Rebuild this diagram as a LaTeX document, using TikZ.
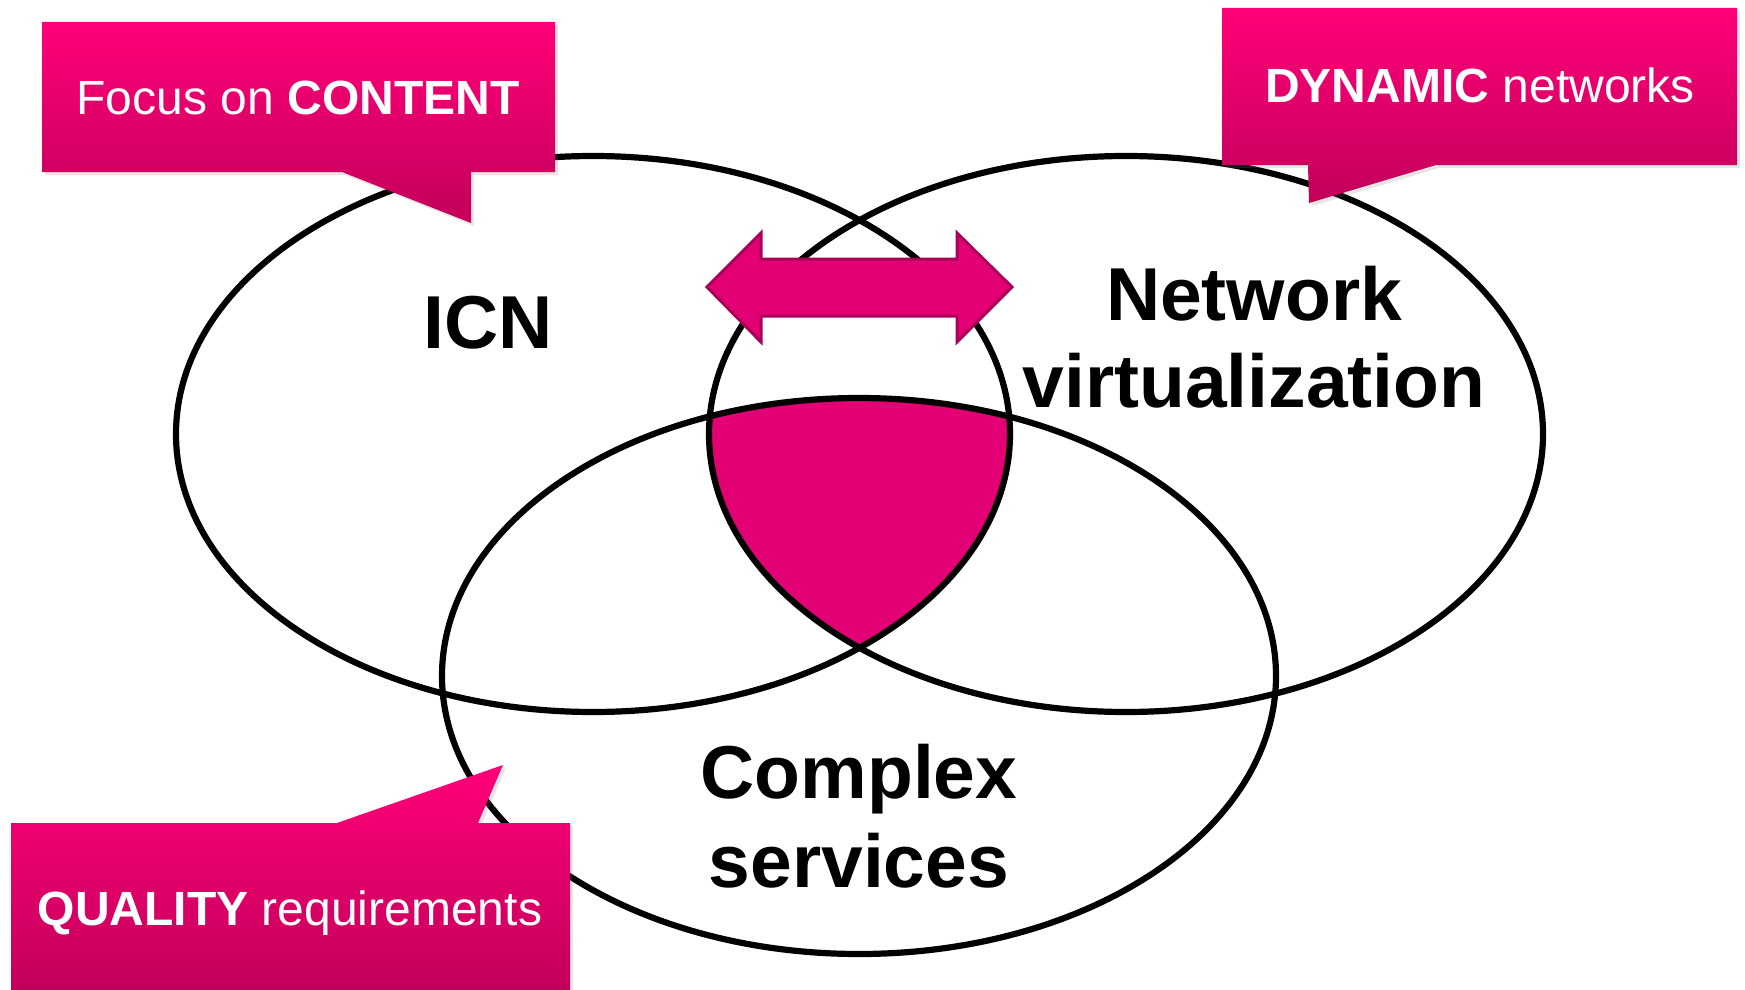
\documentclass[tikz,border=0pt]{standalone}
\usepackage{fontspec}
\setmainfont{Liberation Sans}
\newcommand*{\bigfont}{\fontsize{37.5}{44}\selectfont\bfseries}
\newcommand*{\tagfont}{\fontsize{24}{29}\selectfont}
\definecolor{M}{RGB}{226,0,116}
\definecolor{Mtop}{RGB}{255,0,120}
\definecolor{Mbot}{RGB}{194,0,90}
\definecolor{Medge}{RGB}{172,0,88}
\usepackage{tikz}
\usetikzlibrary{shadows}
\tikzstyle{base}=[x=0.5pt, y=-0.5pt, inner sep=0pt, outer sep=0pt]
\tikzstyle{ring}=[black, line width=3.1pt]
\tikzstyle{tag}=[top color=Mtop, bottom color=Mbot,
    drop shadow={shadow xshift=1.5pt, shadow yshift=-1.5pt, opacity=0.2}]
\tikzstyle{tagtext}=[white, anchor=base, font=\tagfont]
\tikzstyle{bigtext}=[black, anchor=base, font=\bigfont]

\begin{document}
\begin{tikzpicture}[base]
    \fill [white] (0,0) rectangle (1745,990);
    \path [use as bounding box] (0,0) rectangle (1745,990);
    % common part of the three sets
    \begin{scope}
        \clip (593,434) ellipse [x radius=417, y radius=278];
        \clip (1126,434) ellipse [x radius=417, y radius=278];
        \fill [M] (859,676) ellipse [x radius=417, y radius=278];
    \end{scope}
    \draw [ring] (593,434) ellipse [x radius=417, y radius=278];
    \draw [ring] (1126,434) ellipse [x radius=417, y radius=278];
    \draw [ring] (859,676) ellipse [x radius=417, y radius=278];
    % double arrow
    \draw [Medge, fill=M, line width=1.5pt, line join=miter]
        (707,287) -- (761,233) -- (761,259) -- (957,259) -- (957,233)
        -- (1012,287) -- (957,342) -- (957,316) -- (761,316) -- (761,342) -- cycle;
    % callouts
    \path [tag] (42,22) -- (555,22) -- (555,172) -- (471,172) -- (471,223)
        -- (342,172) -- (42,172) -- cycle;
    \path [tag] (1222,8) -- (1737,8) -- (1737,165) -- (1436,165) -- (1309,203)
        -- (1308,165) -- (1222,165) -- cycle;
    \path [tag] (11,823) -- (337,823) -- (503,765) -- (478,823) -- (570,823)
        -- (570,990) -- (11,990) -- cycle;
    \node [tagtext] (content) at (298,115) {Focus on \textbf{CONTENT}};
    \node [tagtext] (dynamic) at (1480,103) {\textbf{DYNAMIC} networks};
    \node [tagtext] (quality) at (290,925) {\textbf{QUALITY} requirements};
    % set labels
    \node [bigtext] (icn) at (488,348) {ICN};
    \node [bigtext] (network) at (1254,320) {Network};
    \node [bigtext] (virt) at (1254,407) {virtualization};
    \node [bigtext] (complex) at (859,798) {Complex};
    \node [bigtext] (services) at (859,887) {services};
\end{tikzpicture}
\end{document}
